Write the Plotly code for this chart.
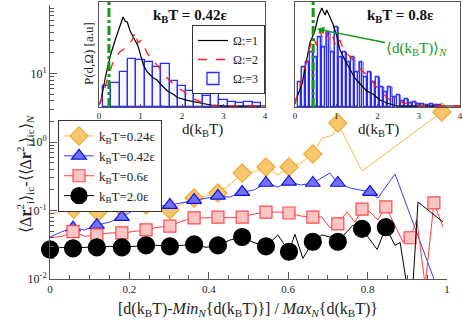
import plotly.graph_objects as go

# ---------------- main panel data ----------------
x_024 = [0.0, 0.030, 0.060, 0.091, 0.121, 0.151, 0.181, 0.212, 0.242, 0.272, 0.302, 0.332, 0.363, 0.393,
         0.423, 0.453, 0.484, 0.514, 0.544, 0.574, 0.602, 0.632, 0.662, 0.685, 0.713, 0.725, 0.756, 0.786, 0.987]
y_024 = [0.089, 0.098, 0.105, 0.102, 0.095, 0.102, 0.109, 0.120, 0.120, 0.109, 0.102, 0.124, 0.152, 0.163,
         0.180, 0.236, 0.352, 0.365, 0.432, 0.330, 0.432, 0.494, 0.668, 1.14, 1.26, 1.89, 0.845, 0.377, 2.74]
mx_024 = [0.060, 0.121, 0.181, 0.242, 0.302, 0.363, 0.423, 0.484, 0.544, 0.602, 0.662, 0.725, 0.987]
my_024 = [0.105, 0.095, 0.109, 0.120, 0.102, 0.152, 0.180, 0.352, 0.432, 0.432, 0.668, 1.89, 2.74]

x_042 = [0.0, 0.030, 0.058, 0.088, 0.118, 0.151, 0.181, 0.212, 0.242, 0.272, 0.302, 0.332, 0.363, 0.393,
         0.423, 0.453, 0.484, 0.514, 0.544, 0.574, 0.602, 0.632, 0.662, 0.705, 0.725, 0.756, 0.806, 0.826,
         0.869, 0.970]
y_042 = [0.041, 0.049, 0.056, 0.052, 0.061, 0.068, 0.080, 0.102, 0.116, 0.116, 0.120, 0.129, 0.142, 0.152,
         0.163, 0.157, 0.186, 0.199, 0.252, 0.220, 0.261, 0.236, 0.252, 0.352, 0.252, 0.213, 0.186, 0.152,
         0.341, 0.009]
mx_042 = [0.058, 0.118, 0.181, 0.242, 0.302, 0.363, 0.423, 0.484, 0.544, 0.602, 0.662, 0.725, 0.806]
my_042 = [0.056, 0.061, 0.080, 0.116, 0.120, 0.142, 0.163, 0.186, 0.252, 0.261, 0.252, 0.252, 0.186]

x_06 = [0.0, 0.030, 0.058, 0.088, 0.118, 0.151, 0.181, 0.212, 0.242, 0.272, 0.302, 0.332, 0.363, 0.393,
        0.423, 0.453, 0.484, 0.514, 0.544, 0.574, 0.602, 0.632, 0.662, 0.685, 0.705, 0.725, 0.748, 0.768,
        0.786, 0.806, 0.826, 0.846, 0.874, 0.889, 0.907, 0.924, 0.945, 0.967, 0.990]
y_06 = [0.040, 0.042, 0.049, 0.042, 0.044, 0.047, 0.047, 0.050, 0.052, 0.057, 0.059, 0.070, 0.078, 0.078,
        0.080, 0.078, 0.080, 0.089, 0.095, 0.095, 0.092, 0.083, 0.080, 0.080, 0.056, 0.064, 0.095, 0.068,
        0.105, 0.095, 0.073, 0.113, 0.052, 0.035, 0.040, 0.073, 0.008, 0.129, 0.057]
mx_06 = [0.058, 0.118, 0.181, 0.242, 0.302, 0.363, 0.423, 0.484, 0.544, 0.602, 0.662, 0.725, 0.786, 0.846,
         0.907, 0.967]
my_06 = [0.049, 0.044, 0.047, 0.052, 0.059, 0.078, 0.080, 0.080, 0.095, 0.092, 0.080, 0.064, 0.105, 0.113,
         0.040, 0.129]

x_20 = [0.0, 0.030, 0.058, 0.088, 0.118, 0.151, 0.181, 0.212, 0.242, 0.272, 0.302, 0.332, 0.363, 0.393,
        0.423, 0.453, 0.484, 0.514, 0.544, 0.574, 0.602, 0.617, 0.637, 0.662, 0.685, 0.705, 0.725, 0.763,
        0.786, 0.824, 0.846, 0.869, 0.882, 0.899, 0.914, 0.927, 0.990]
y_20 = [0.027, 0.029, 0.028, 0.029, 0.029, 0.030, 0.029, 0.030, 0.031, 0.031, 0.030, 0.031, 0.032, 0.029,
        0.031, 0.037, 0.041, 0.034, 0.030, 0.044, 0.025, 0.045, 0.020, 0.035, 0.044, 0.041, 0.035, 0.061,
        0.054, 0.027, 0.057, 0.031, 0.034, 0.008, 0.008, 0.133, 0.068]
mx_20 = [0.0, 0.058, 0.118, 0.181, 0.242, 0.302, 0.363, 0.423, 0.484, 0.544, 0.602, 0.662, 0.725, 0.786, 0.846]
my_20 = [0.027, 0.028, 0.029, 0.029, 0.031, 0.030, 0.032, 0.031, 0.041, 0.030, 0.025, 0.035, 0.035, 0.054,
         0.057]

# ---------------- inset data (kBT = 0.42) ----------------
l_d1 = [0.0, 0.05, 0.15, 0.27, 0.39, 0.51, 0.58, 0.63, 0.68, 0.75, 0.82, 0.88, 0.94, 1.07, 1.16, 1.31,
        1.40, 1.48, 1.65, 1.78, 1.89, 2.13, 2.45, 2.69, 3.0, 3.5, 4.0]
l_p1 = [0.02, 0.07, 0.29, 0.51, 0.67, 0.83, 0.90, 0.86, 0.85, 0.76, 0.70, 0.66, 0.61, 0.42, 0.35, 0.29,
        0.27, 0.23, 0.16, 0.13, 0.095, 0.067, 0.038, 0.02, 0.012, 0.01, 0.01]
l_d2 = [0.0, 0.05, 0.19, 0.34, 0.50, 0.60, 0.68, 0.80, 0.87, 0.94, 1.02, 1.10, 1.16, 1.28, 1.40, 1.55,
        1.72, 1.89, 2.03, 2.20, 2.37, 2.52, 2.76, 3.2, 4.0]
l_p2 = [0.02, 0.07, 0.26, 0.45, 0.55, 0.58, 0.62, 0.67, 0.75, 0.64, 0.67, 0.60, 0.54, 0.47, 0.42, 0.33,
        0.26, 0.19, 0.16, 0.095, 0.067, 0.038, 0.012, 0.01, 0.01]
l_d3 = [0.2, 0.4, 0.6, 0.8, 1.0, 1.2, 1.4, 1.6, 1.8, 2.0, 2.2, 2.4, 2.6, 2.8, 3.0, 3.2, 3.4, 3.6, 3.8]
l_p3 = [0.21, 0.24, 0.35, 0.48, 0.47, 0.45, 0.40, 0.43, 0.26, 0.21, 0.16, 0.18, 0.11, 0.16, 0.07, 0.05,
        0.04, 0.05, 0.04]
l_mean = 0.24

# ---------------- inset data (kBT = 0.8) ----------------
r_d1 = [0.0, 0.02, 0.17, 0.29, 0.36, 0.48, 0.56, 0.65, 0.73, 0.77, 0.85, 0.92, 1.02, 1.09, 1.21, 1.33,
        1.45, 1.58, 1.74, 1.89, 2.06, 2.23, 2.47, 3.0, 4.0]
r_p1 = [0.03, 0.07, 0.23, 0.48, 0.64, 0.76, 0.90, 0.99, 0.92, 0.97, 0.89, 0.83, 0.70, 0.57, 0.47, 0.38,
        0.29, 0.23, 0.16, 0.13, 0.07, 0.04, 0.01, 0.01, 0.01]
r_d2 = [0.0, 0.02, 0.20, 0.32, 0.44, 0.52, 0.60, 0.68, 0.77, 0.85, 0.92, 1.00, 1.09, 1.17, 1.25, 1.33,
        1.41, 1.50, 1.58, 1.70, 1.82, 1.94, 2.06, 2.30, 2.63, 3.03, 4.0]
r_p2 = [0.03, 0.07, 0.32, 0.54, 0.70, 0.62, 0.76, 0.68, 0.75, 0.64, 0.70, 0.60, 0.67, 0.58, 0.54, 0.50,
        0.47, 0.41, 0.38, 0.33, 0.29, 0.22, 0.16, 0.07, 0.04, 0.01, 0.01]
r_d3 = [0.1, 0.2, 0.3, 0.4, 0.5, 0.6, 0.7, 0.8, 0.9, 1.0, 1.1, 1.2, 1.3, 1.4, 1.5, 1.6, 1.7, 1.8, 1.9,
        2.0, 2.1, 2.2, 2.3, 2.4, 2.5, 2.6, 2.7, 2.8, 2.9, 3.0, 3.1, 3.2, 3.3, 3.4, 3.5]
r_p3 = [0.25, 0.40, 0.45, 0.55, 0.50, 0.70, 0.60, 0.75, 0.55, 0.80, 0.50, 0.55, 0.45, 0.50, 0.35, 0.45,
        0.30, 0.35, 0.25, 0.30, 0.20, 0.15, 0.20, 0.10, 0.12, 0.06, 0.08, 0.04, 0.05, 0.03, 0.03, 0.02,
        0.03, 0.02, 0.02]
r_mean = 0.44

legend_main = ["k<sub>B</sub>T=0.24ε", "k<sub>B</sub>T=0.42ε", "k<sub>B</sub>T=0.6ε", "k<sub>B</sub>T=2.0ε"]
legend_inset = ["Ω:=1", "Ω:=2", "Ω:=3"]

FONT = "Liberation Serif"
AX = "#555555"
GREEN = "#139a13"

fig = go.Figure()

series = [
    (x_024, y_024, mx_024, my_024, "#FDB845", "diamond", 14, "#F8C66C", "#F0A830"),
    (x_042, y_042, mx_042, my_042, "#3B3BFF", "triangle-up", 13, "#7272FF", "#1010E0"),
    (x_06, y_06, mx_06, my_06, "#FF3C3C", "square", 12, "#FFC4C4", "#FF4A4A"),
    (x_20, y_20, mx_20, my_20, "black", "circle", 17, "black", "black"),
]
for (xl, yl, xm, ym, lc, sym, sz, fc, oc), name in zip(series, legend_main):
    fig.add_trace(go.Scatter(x=xl, y=yl, mode="lines", line=dict(color=lc, width=1),
                             showlegend=False, hoverinfo="skip"))
    fig.add_trace(go.Scatter(x=xm, y=ym, mode="markers", cliponaxis=False, showlegend=False,
                             marker=dict(symbol=sym, size=sz, color=fc, line=dict(color=oc, width=1.2))))
    fig.add_trace(go.Scatter(x=[None], y=[None], mode="lines+markers", name=name, legend="legend",
                             line=dict(color=lc, width=1),
                             marker=dict(symbol=sym, size=sz, color=fc, line=dict(color=oc, width=1.2))))

# insets
for xa, ya, d1, p1, d2, p2, d3, p3, bw, mean, leg in [
    ("x2", "y2", l_d1, l_p1, l_d2, l_p2, l_d3, l_p3, 0.2, l_mean, True),
    ("x3", "y3", r_d1, r_p1, r_d2, r_p2, r_d3, r_p3, 0.07, r_mean, False),
]:
    fig.add_trace(go.Bar(x=d3, y=p3, width=bw, xaxis=xa, yaxis=ya, name=legend_inset[2],
                         legend="legend2", showlegend=leg, legendrank=3,
                         marker=dict(color="rgba(200,200,255,0.15)", line=dict(color="#2a2aff", width=1.3))))
    if not leg:
        fig.add_trace(go.Scatter(x=d3, y=p3, xaxis=xa, yaxis=ya, mode="lines", line_shape="hvh",
                                 line=dict(color="#3a3aff", width=1), showlegend=False))
    fig.add_trace(go.Scatter(x=d1, y=p1, xaxis=xa, yaxis=ya, mode="lines", name=legend_inset[0],
                             legend="legend2", showlegend=leg, legendrank=1,
                             line=dict(color="black", width=1.2)))
    fig.add_trace(go.Scatter(x=d2, y=p2, xaxis=xa, yaxis=ya, mode="lines", name=legend_inset[1],
                             legend="legend2", showlegend=leg, legendrank=2,
                             line=dict(color="#FF2020", width=1.3, dash="dash")))
    fig.add_trace(go.Scatter(x=[mean, mean], y=[0, 1.05], xaxis=xa, yaxis=ya, mode="lines",
                             showlegend=False, line=dict(color=GREEN, width=3, dash="dashdot")))

minor_y = [k * 10.0 ** e for e in range(-2, 2) for k in range(2, 10)]
fig.update_layout(
    width=463, height=324, margin=dict(l=0, r=0, t=0, b=0, autoexpand=False),
    paper_bgcolor="white", plot_bgcolor="rgba(0,0,0,0)",
    font=dict(family=FONT, color="#222", size=12),
    barmode="overlay", bargap=0,
    xaxis=dict(domain=[50 / 463, 447 / 463], range=[0, 1], showline=True, linecolor=AX, linewidth=1,
               ticks="inside", ticklen=7, tickcolor=AX, tickvals=[0, 0.2, 0.4, 0.6, 0.8, 1],
               ticktext=["0", "0.2", "0.4", "0.6", "0.8", "1"], tickfont=dict(size=11),
               minor=dict(ticks="inside", ticklen=4, tickcolor=AX, dtick=0.05),
               showgrid=False, zeroline=False, automargin=False),
    yaxis=dict(domain=[45 / 324, 319 / 324], type="log", range=[-2, 2], showline=True, linecolor=AX,
               linewidth=1, ticks="inside", ticklen=7, tickcolor=AX,
               tickvals=[0.01, 0.1, 1, 10],
               ticktext=["10<sup>-2</sup>", "10<sup>-1</sup>", "10<sup>0</sup>", "10<sup>1</sup>"],
               tickfont=dict(size=12),
               minor=dict(ticks="inside", ticklen=4, tickcolor=AX, tickmode="array", tickvals=minor_y),
               showgrid=False, zeroline=False, automargin=False),
    xaxis2=dict(domain=[99 / 463, 265 / 463], anchor="y2", range=[0, 4], showline=True, mirror=True,
                linecolor=AX, ticks="inside", ticklen=3, tickcolor=AX, dtick=1, tickfont=dict(size=9),
                minor=dict(ticks="inside", ticklen=2, dtick=0.5, tickcolor=AX),
                showgrid=False, zeroline=False, automargin=False),
    yaxis2=dict(domain=[217 / 324, 322 / 324], anchor="x2", range=[0, 1.05], showline=True, mirror=True,
                linecolor=AX, showticklabels=False, ticks="", showgrid=False, zeroline=False,
                automargin=False),
    xaxis3=dict(domain=[295 / 463, 460 / 463], anchor="y3", range=[0, 4], showline=True, mirror=True,
                linecolor=AX, ticks="inside", ticklen=3, tickcolor=AX, dtick=1, tickfont=dict(size=9),
                minor=dict(ticks="inside", ticklen=2, dtick=0.5, tickcolor=AX),
                showgrid=False, zeroline=False, automargin=False),
    yaxis3=dict(domain=[217 / 324, 322 / 324], anchor="x3", range=[0, 1.05], showline=True, mirror=True,
                linecolor=AX, showticklabels=False, ticks="", showgrid=False, zeroline=False,
                automargin=False),
    legend=dict(x=58 / 463, y=1 - 120 / 324, xanchor="left", yanchor="top", bgcolor="white",
                bordercolor="#333", borderwidth=1, font=dict(size=13, color="#222"),
                tracegroupgap=0, itemwidth=30),
    legend2=dict(x=192 / 463, y=1 - 25 / 324, xanchor="left", yanchor="top", bgcolor="white",
                 bordercolor="#333", borderwidth=1, font=dict(size=12, color="#222"),
                 tracegroupgap=0, itemwidth=30, traceorder="normal"),
)

ann = [
    dict(text="<b>k<sub>B</sub>T = 0.42ε</b>", x=190 / 463, y=1 - 16 / 324, size=15, angle=0, color="#111"),
    dict(text="<b>k<sub>B</sub>T = 0.8ε</b>", x=400 / 463, y=1 - 16 / 324, size=15, angle=0, color="#111"),
    dict(text="d(k<sub>B</sub>T)", x=202 / 463, y=1 - 130 / 324, size=15, angle=0, color="#222"),
    dict(text="d(k<sub>B</sub>T)", x=378 / 463, y=1 - 130 / 324, size=15, angle=0, color="#222"),
    dict(text="P(d,Ω) [a.u]", x=89 / 463, y=1 - 54 / 324, size=13, angle=-90, color="#222"),
    dict(text="[d(k<sub>B</sub>T)-<i>Min</i><sub><i>N</i></sub>{d(k<sub>B</sub>T)}] / "
              "<i>Max</i><sub><i>N</i></sub>{d(k<sub>B</sub>T)}",
         x=248 / 463, y=1 - 309 / 324, size=16, angle=0, color="#222"),
    dict(text="⟨Δ<b>r</b><sup>2</sup><sub>i</sub>⟩<sub>ic</sub>-⟨⟨Δ<b>r</b><sup>2</sup><sub>i</sub>⟩"
              "<sub>ic</sub>⟩<sub><i>N</i></sub>",
         x=25 / 463, y=1 - 174 / 324, size=16, angle=-90, color="#222"),
]
for a in ann:
    fig.add_annotation(text=a["text"], x=a["x"], y=a["y"], xref="paper", yref="paper", showarrow=False,
                       xanchor="center", yanchor="middle", textangle=a["angle"],
                       font=dict(size=a["size"], color=a["color"], family=FONT))

fig.add_annotation(text="⟨d(k<sub>B</sub>T)⟩<sub><i>N</i></sub>", x=0.53, y=0.78, xref="x3", yref="y3",
                   showarrow=True, arrowhead=2, arrowsize=1, arrowwidth=1.5, arrowcolor=GREEN,
                   ax=100, ay=20, font=dict(size=15, color=GREEN, family=FONT))

fig.write_html("out.html", config={"displayModeBar": False},
               post_script="document.body.style.margin='0';")
